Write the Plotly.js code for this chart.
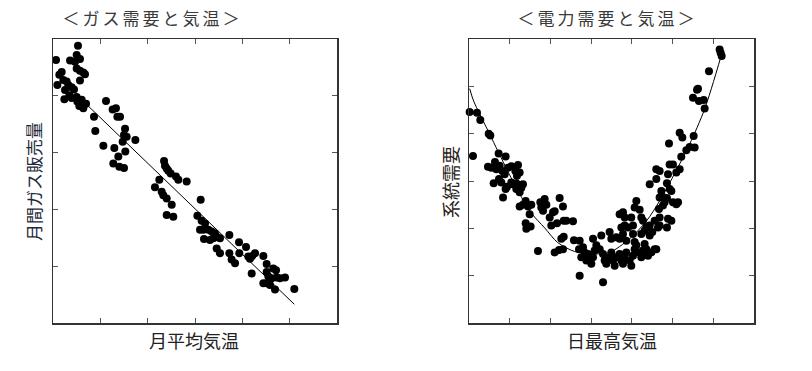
<!DOCTYPE html>
<html>
<head>
<meta charset="utf-8">
<script src="https://cdn.plot.ly/plotly-3.0.1.min.js"></script>
<style>
  html, body { margin: 0; padding: 0; background: #fff; }
  #chart { width: 812px; height: 371px; }
</style>
</head>
<body>
<div id="chart"></div>
<script>
// ---------- Data (arbitrary units) ----------
// Left: monthly gas sales vs monthly mean temperature
const gasTemp = [0.32,2.64,2.50,2.85,1.80,2.32,0.92,0.67,0.46,1.09,1.44,1.62,1.27,1.97,2.22,2.50,2.85,3.20,3.38,2.85,1.20,1.73,1.97,2.50,2.57,2.78,3.20,3.49,3.03,5.60,6.30,6.65,6.80,7.08,4.33,4.47,7.61,7.50,7.78,8.70,7.36,5.32,6.48,7.64,6.90,6.37,7.01,7.50,
  11.73,11.83,12.01,12.18,12.43,12.99,13.24,14.12,11.23,10.77,11.48,11.65,12.01,12.54,12.01,12.71,15.60,15.25,15.70,16.06,15.53,15.88,16.41,16.76,17.11,17.29,16.94,17.64,15.95,16.58,18.63,19.65,20.39,17.29,17.64,18.63,18.87,19.23,19.68,20.63,20.81,21.06,21.34,22.22,20.99,22.57,22.57,23.27,23.56,22.75,23.10,23.63,23.98,24.51,22.22,22.57,23.45,22.92,25.49];
const gasSales = [46.3,48.8,47.2,46.5,46.2,46.0,44.2,43.7,41.9,42.8,42.5,41.9,41.0,41.5,41.1,44.8,44.4,44.1,43.8,42.7,39.4,40.1,39.6,39.8,39.0,38.2,37.8,38.6,39.3,39.1,37.6,37.8,36.3,36.3,36.3,33.8,34.2,33.1,32.8,32.2,31.9,31.2,30.8,30.2,29.3,28.1,27.5,27.3,
  28.5,27.7,27.2,26.8,26.3,25.8,25.2,24.9,25.2,23.9,23.1,22.5,21.9,20.8,19.0,18.7,21.7,18.9,18.0,17.5,16.4,16.4,16.4,16.1,15.8,15.2,14.9,14.9,14.8,14.6,15.5,14.2,13.4,13.1,12.3,12.3,11.2,10.5,12.3,11.7,11.3,11.8,12.3,11.8,8.7,10.4,9.0,9.6,9.3,8.2,7.9,8.0,7.9,8.0,7.0,7.0,5.9,6.7,6.0];
const gasFitTemp = [2.85, 25.49];
const gasFitSales = [39.6, 3.3];

// Right: system electricity demand vs daily maximum temperature
const elecTemp = [0.08,0.98,1.39,2.42,2.62,0.49,3.64,4.50,3.19,2.33,2.74,3.36,3.77,4.09,4.38,4.79,5.20,6.02,5.69,5.89,6.22,3.03,3.68,3.97,4.67,4.50,4.18,5.20,5.40,5.81,6.63,6.43,5.81,6.22,6.22,6.63,6.96,7.25,7.65,7.45,6.96,7.57,7.04,8.76,8.88,9.29,9.09,9.50,10.32,10.52,9.91,11.13,11.54,10.11,10.81,11.63,11.95,12.77,11.34,11.63,11.05,10.52,11.54,8.47,12.89,13.51,
  13.59,14.00,14.20,14.61,13.79,14.41,15.02,15.23,15.43,15.64,16.05,16.46,16.66,16.86,17.27,17.48,17.68,17.89,18.09,18.50,18.71,18.91,19.12,19.32,19.73,19.93,20.14,20.34,20.55,20.88,21.16,21.37,21.57,21.78,21.98,22.39,22.80,23.00,
  15.23,16.25,17.27,17.48,18.09,18.50,18.91,19.32,18.71,19.12,19.53,20.14,20.14,20.34,21.16,21.57,21.78,22.19,22.19,22.51,22.80,23.21,23.41,23.41,23.33,23.82,24.03,23.74,24.31,25.05,25.46,25.67,24.44,24.31,24.85,
  18.50,18.91,19.12,19.93,20.34,20.96,21.16,21.37,20.55,22.19,23.00,23.41,23.00,24.64,24.31,24.64,24.85,24.44,25.46,25.87,26.07,25.05,26.69,27.10,27.71,27.59,25.87,26.20,24.56,23.41,23.62,13.59,16.46,
  27.51,28.00,28.12,28.24,28.82,28.94,29.47,30.78,30.90,31.03];
const elecDemand = [44.6,44.4,42.9,40.0,39.6,35.3,35.8,35.2,34.0,33.0,32.8,32.5,33.2,32.1,31.4,32.8,33.1,33.4,32.1,31.1,31.8,29.5,30.4,29.7,28.8,28.3,26.5,29.7,29.3,29.5,29.3,28.6,28.3,27.6,24.6,25.0,25.8,24.6,25.0,23.0,21.1,20.4,19.9,25.5,24.4,26.2,23.7,25.0,23.4,23.6,22.3,26.4,24.6,20.6,21.1,21.6,21.6,21.5,17.8,18.2,15.4,14.9,15.6,15.2,17.5,15.6,
  17.4,16.0,14.9,14.6,13.9,13.2,12.5,13.9,15.3,16.4,15.6,14.6,13.2,12.5,13.9,14.9,13.2,12.1,13.9,14.6,13.2,12.5,13.9,14.9,13.2,12.1,14.2,15.6,16.4,14.9,13.9,15.3,16.7,15.6,14.2,14.9,15.6,15.6,
  17.8,18.5,19.2,17.8,18.1,17.8,18.8,17.4,20.2,20.6,20.2,20.6,18.8,17.1,18.8,19.5,20.2,20.6,18.5,19.2,21.6,20.2,20.6,22.3,24.1,24.8,25.5,26.7,26.4,25.5,25.1,25.5,22.0,20.2,21.6,
  23.0,23.4,22.3,22.3,24.4,23.9,22.3,21.6,25.8,29.3,30.4,32.1,32.5,33.5,29.5,28.3,27.9,31.4,31.8,32.5,35.1,33.5,36.5,37.2,37.1,39.5,40.2,39.2,37.9,26.5,27.9,10.0,8.6,
  47.6,49.3,49.5,46.9,47.1,45.3,53.2,57.8,57.1,56.4];
const elecFitTemp = [0.08,0.57,2.54,4.75,6.47,7.70,9.29,10.89,12.98,15.43,17.27,19.73,21.82,23.41,24.64,25.87,27.10,28.94,31.03];
const elecFitDemand = [49.5,46.9,39.9,32.1,26.5,23.1,20.1,17.0,15.1,14.6,14.9,17.8,21.6,25.8,29.6,33.6,37.8,45.2,56.8];

const gasXTicks = [5,10,15,20,25];
const gasYTicks = [10,20,30,40];
const elecXTicks = [5,10,15,20,25,30];
const elecYTicks = [10,20,30,40,50];

const titles = ['＜ガス需要と気温＞', '＜電力需要と気温＞'];
const xLabels = ['月平均気温', '日最高気温'];
const yLabels = ['月間ガス販売量', '系統需要'];

// ---------- Chart ----------
const W = 812, H = 371;
const FONT = '"Noto Sans CJK JP", "Noto Sans", sans-serif';

const marker = {color: '#000', size: 8, line: {width: 0}};
const traces = [
  {x: gasTemp, y: gasSales, type: 'scatter', mode: 'markers', marker: marker, xaxis: 'x', yaxis: 'y', cliponaxis: false, hoverinfo: 'skip'},
  {x: gasFitTemp, y: gasFitSales, type: 'scatter', mode: 'lines', line: {color: '#000', width: 1}, xaxis: 'x', yaxis: 'y', hoverinfo: 'skip'},
  {x: elecTemp, y: elecDemand, type: 'scatter', mode: 'markers', marker: marker, xaxis: 'x2', yaxis: 'y2', cliponaxis: false, hoverinfo: 'skip'},
  {x: elecFitTemp, y: elecFitDemand, type: 'scatter', mode: 'lines', line: {color: '#000', width: 1, shape: 'spline', smoothing: 0.8}, xaxis: 'x2', yaxis: 'y2', hoverinfo: 'skip'}
];

function ax(extra) {
  return Object.assign({
    showline: true, linecolor: '#333', linewidth: 1.5, mirror: 'ticks',
    ticks: 'inside', ticklen: 5, tickwidth: 1, tickcolor: '#555',
    showticklabels: false, showgrid: false, zeroline: false, fixedrange: true,
    tickmode: 'array'
  }, extra);
}

const yDom = [48 / H, 332 / H];
const layout = {
  width: W, height: H,
  margin: {l: 0, r: 0, t: 0, b: 0},
  paper_bgcolor: '#fff', plot_bgcolor: '#fff',
  showlegend: false,
  font: {family: FONT, color: '#222'},
  xaxis: ax({domain: [53 / W, 337 / W], range: [0, 30], tickvals: gasXTicks, anchor: 'y'}),
  yaxis: ax({domain: yDom, range: [0, 50], tickvals: gasYTicks, anchor: 'x'}),
  xaxis2: ax({domain: [469 / W, 754 / W], range: [0, 35], tickvals: elecXTicks, anchor: 'y2'}),
  yaxis2: ax({domain: yDom, range: [0, 60], tickvals: elecYTicks, anchor: 'x2'}),
  annotations: [
    {text: titles[0], x: 152 / W, y: 1 - 18 / H, xref: 'paper', yref: 'paper', showarrow: false, xanchor: 'center', yanchor: 'middle', font: {size: 17, color: '#3a3a3a', family: FONT}},
    {text: titles[1], x: 607 / W, y: 1 - 18 / H, xref: 'paper', yref: 'paper', showarrow: false, xanchor: 'center', yanchor: 'middle', font: {size: 17, color: '#3a3a3a', family: FONT}},
    {text: xLabels[0], x: 194 / W, y: 1 - 340 / H, xref: 'paper', yref: 'paper', showarrow: false, xanchor: 'center', yanchor: 'middle', font: {size: 18, color: '#222', family: FONT}},
    {text: xLabels[1], x: 612 / W, y: 1 - 340 / H, xref: 'paper', yref: 'paper', showarrow: false, xanchor: 'center', yanchor: 'middle', font: {size: 18, color: '#222', family: FONT}},
    {text: yLabels[0], x: 33 / W, y: 1 - 182 / H, xref: 'paper', yref: 'paper', showarrow: false, xanchor: 'center', yanchor: 'middle', textangle: -90, font: {size: 17, color: '#1e2a3a', family: FONT}},
    {text: yLabels[1], x: 450 / W, y: 1 - 182 / H, xref: 'paper', yref: 'paper', showarrow: false, xanchor: 'center', yanchor: 'middle', textangle: -90, font: {size: 18, color: '#2a2218', family: FONT}}
  ]
};

Plotly.newPlot('chart', traces, layout, {displayModeBar: false, staticPlot: true}).then(function () {
  // the reference titles have wide letter spacing
  document.querySelectorAll('.annotation-text').forEach(function (t) {
    const s = t.textContent;
    if (s === titles[0] || s === titles[1]) {
      t.style.letterSpacing = '3px';
    }
  });
});
</script>
</body>
</html>
